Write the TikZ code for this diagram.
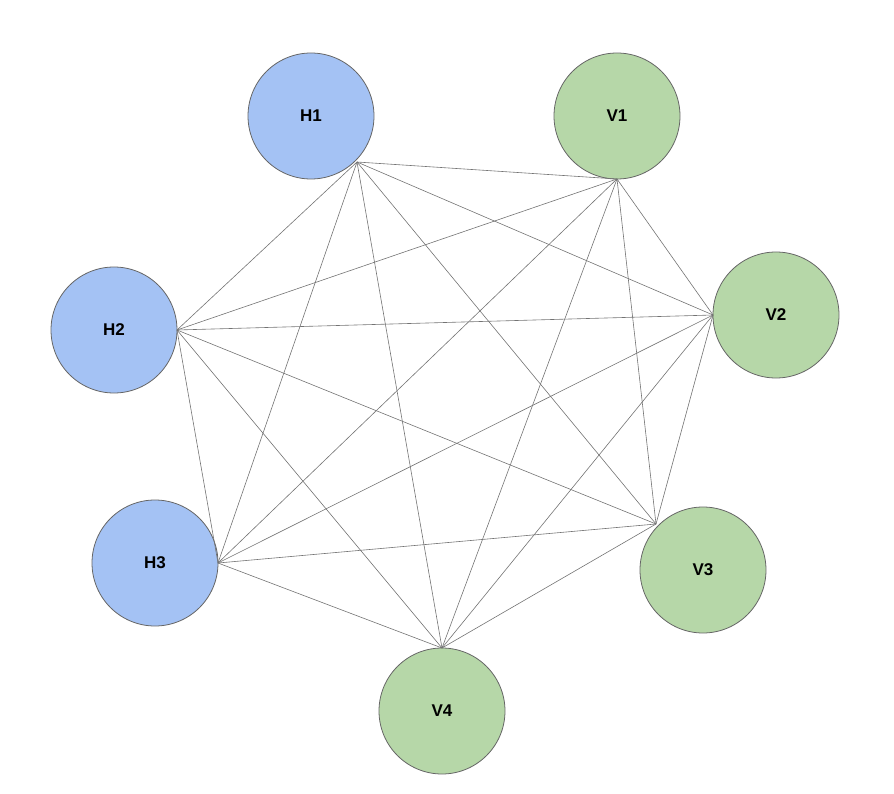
\documentclass[tikz,border=0pt]{standalone}
\usepackage{fontspec}
\setmainfont{Liberation Sans}
\begin{document}
\begin{tikzpicture}[x=1pt,y=-1pt,
  nd/.style={circle,draw=black!60,line width=0.8pt,minimum size=126pt,inner sep=0pt,font=\fontsize{17}{20}\selectfont\bfseries},
  hn/.style={nd,fill={rgb,255:red,164;green,194;blue,244}},
  vn/.style={nd,fill={rgb,255:red,182;green,215;blue,168}},
  ed/.style={draw=black!55,line width=0.6pt}]
\useasboundingbox (0,0) rectangle (894,794);
\node[hn] (H1) at (311,116) {H1};
\node[vn] (V1) at (617,116) {V1};
\node[hn] (H2) at (114,330) {H2};
\node[vn] (V2) at (776,315) {V2};
\node[hn] (H3) at (155,563) {H3};
\node[vn] (V3) at (703,570) {V3};
\node[vn] (V4) at (442,711) {V4};
\coordinate (h1) at (357,162);
\coordinate (v1) at (617,179);
\coordinate (h2) at (177,330);
\coordinate (v2) at (713,315);
\coordinate (h3) at (218,563);
\coordinate (v3) at (656,524);
\coordinate (v4) at (442,648);
\foreach \a/\b in {h1/v1,h1/h2,h1/h3,h1/v2,h1/v3,h1/v4,
  v1/h2,v1/h3,v1/v2,v1/v3,v1/v4,
  h2/h3,h2/v2,h2/v3,h2/v4,
  v2/h3,v2/v3,v2/v4,
  h3/v3,h3/v4,v3/v4}
  \draw[ed] (\a) -- (\b);
\end{tikzpicture}
\end{document}
